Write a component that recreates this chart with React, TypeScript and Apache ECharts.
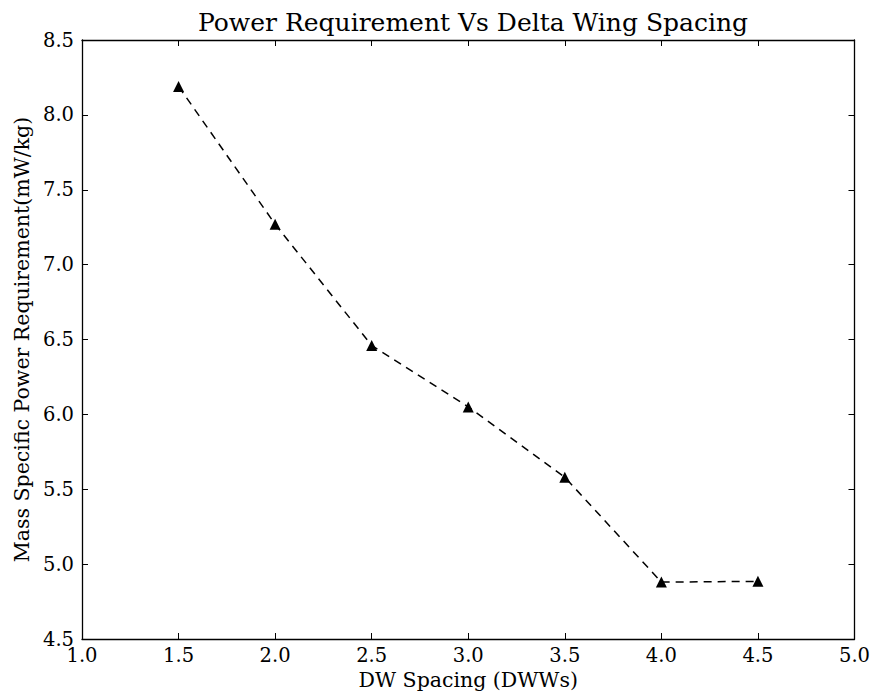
import React, { useEffect, useRef } from "react";
import * as echarts from "echarts";

const spacing = [1.5, 2.0, 2.5, 3.0, 3.5, 4.0, 4.5];
const power = [8.19, 7.27, 6.46, 6.05, 5.58, 4.88, 4.885];

const FONT = "DejaVu Serif";

export default function App() {
  const ref = useRef<HTMLDivElement>(null);
  useEffect(() => {
    const chart = echarts.init(ref.current!, null, { renderer: "svg" });
    const axisLine = { show: true, lineStyle: { color: "#000", width: 1.3 } };
    const tick = { show: true, inside: true, length: 6, lineStyle: { color: "#000", width: 1 } };
    chart.setOption({
      animation: false,
      backgroundColor: "#fff",
      title: {
        text: "Power Requirement Vs Delta Wing Spacing",
        left: 468,
        top: 5,
        textAlign: "center",
        textStyle: { fontFamily: FONT, fontSize: 25, fontWeight: "normal", color: "#000" },
      },
      grid: { left: 82, right: 18, top: 40, bottom: 57 },
      xAxis: [
        {
          type: "value",
          min: 1.0,
          max: 5.0,
          interval: 0.5,
          position: "bottom",
          name: "DW Spacing (DWWs)",
          nameLocation: "middle",
          nameGap: 30,
          nameTextStyle: { fontFamily: FONT, fontSize: 20.5, color: "#000" },
          axisLine,
          axisTick: tick,
          splitLine: { show: false },
          axisLabel: {
            fontFamily: FONT,
            fontSize: 19.5,
            color: "#000",
            margin: 6,
            formatter: (v: number) => v.toFixed(1),
          },
        },
        {
          type: "value",
          min: 1.0,
          max: 5.0,
          interval: 0.5,
          position: "top",
          axisLine,
          axisTick: tick,
          splitLine: { show: false },
          axisLabel: { show: false },
        },
      ],
      yAxis: [
        {
          type: "value",
          min: 4.5,
          max: 8.5,
          interval: 0.5,
          position: "left",
          name: "Mass Specific Power Requirement(mW/kg)",
          nameLocation: "middle",
          nameGap: 50,
          nameTextStyle: { fontFamily: FONT, fontSize: 20.5, color: "#000" },
          axisLine,
          axisTick: tick,
          splitLine: { show: false },
          axisLabel: {
            fontFamily: FONT,
            fontSize: 19.5,
            color: "#000",
            margin: 8,
            formatter: (v: number) => v.toFixed(1),
          },
        },
        {
          type: "value",
          min: 4.5,
          max: 8.5,
          interval: 0.5,
          position: "right",
          axisLine,
          axisTick: tick,
          splitLine: { show: false },
          axisLabel: { show: false },
        },
      ],
      series: [
        {
          type: "line",
          data: spacing.map((x, i) => [x, power[i]]),
          xAxisIndex: 0,
          yAxisIndex: 0,
          symbol: "triangle",
          symbolSize: 11,
          itemStyle: { color: "#000" },
          lineStyle: { color: "#000", width: 1.5, type: [8, 6] },
        },
      ],
    });
    return () => chart.dispose();
  }, []);
  return <div ref={ref} style={{ width: 873, height: 696, position: "absolute", left: 0, top: 0 }} />;
}
